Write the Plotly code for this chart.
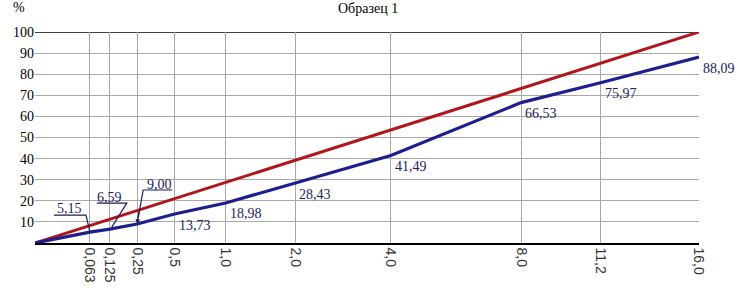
import plotly.graph_objects as go

# --- data ---
sieve_sizes = [0, 0.063, 0.125, 0.25, 0.5, 1.0, 2.0, 4.0, 8.0, 11.2, 16.0]
passing = [0, 5.15, 6.59, 9.00, 13.73, 18.98, 28.43, 41.49, 66.53, 75.97, 88.09]
point_labels = ["", "5,15", "6,59", "9,00", "13,73", "18,98", "28,43", "41,49", "66,53", "75,97", "88,09"]
max_density_sizes = [0, 16.0]
max_density_passing = [0, 100]
tick_sizes = [0.063, 0.125, 0.25, 0.5, 1.0, 2.0, 4.0, 8.0, 11.2, 16.0]
tick_labels = ["0,063", "0,125", "0,25", "0,5", "1,0", "2,0", "4,0", "8,0", "11,2", "16,0"]
y_ticks = [10, 20, 30, 40, 50, 60, 70, 80, 90, 100]

POWER = 0.45  # Fuller-type scale: axis is linear in d^0.45


def tx(d):
    return d ** POWER


RED = "#b0161c"
BLUE = "#1e1e8e"
LABEL = "#1c1c5a"
SERIF = "Liberation Serif"

fig = go.Figure()
fig.add_trace(go.Scatter(x=[tx(d) for d in max_density_sizes], y=max_density_passing,
                         mode="lines", line=dict(color=RED, width=3), hoverinfo="skip"))
fig.add_trace(go.Scatter(x=[tx(d) for d in sieve_sizes], y=passing,
                         mode="lines", line=dict(color=BLUE, width=3.2), hoverinfo="skip"))

# plain labels (lower right of their point)
annotations = []
for d, v, t in zip(sieve_sizes, passing, point_labels):
    if t == "" or d <= 0.25:
        continue
    annotations.append(dict(x=tx(d), y=v, text=t, showarrow=False, xanchor="left",
                            yanchor="middle", xshift=2, yshift=-11,
                            font=dict(family=SERIF, size=14, color=LABEL)))

# labels with leader lines (offsets in pixels relative to the point)
leader = {
    0.063: dict(text_dx=-20, text_dy=24, path="M -36,17 L -4,17 L 0,0"),
    0.125: dict(text_dx=0, text_dy=32, path="M -13,26 L 17,26 L 2,2"),
    0.25: dict(text_dx=22, text_dy=40, path="M 35,34 L 6,34 L 1,6"),
}
shapes = []
for d, v, t in zip(sieve_sizes, passing, point_labels):
    if d in leader:
        L = leader[d]
        annotations.append(dict(x=tx(d), y=v, text=t, showarrow=False, xanchor="center",
                                yanchor="middle", xshift=L["text_dx"], yshift=L["text_dy"],
                                font=dict(family=SERIF, size=14, color=LABEL)))
        shapes.append(dict(type="path", xref="x", yref="y", xsizemode="pixel", ysizemode="pixel",
                           xanchor=tx(d), yanchor=v, path=L["path"],
                           line=dict(color=LABEL, width=1.2)))
        if d == 0.25:
            annotations.append(dict(x=tx(d), y=v, ax=2, ay=-14, text="", showarrow=True,
                                    arrowhead=2, arrowsize=0.8, arrowwidth=1.2, arrowcolor=LABEL))

# top border
shapes.append(dict(type="line", xref="paper", yref="y", x0=0, x1=1, y0=100, y1=100,
                   line=dict(color="black", width=1.5), layer="below"))

annotations.append(dict(xref="paper", yref="paper", x=0.5, y=1, xanchor="center", yanchor="bottom",
                        text="Образец 1", showarrow=False, yshift=14, xshift=1,
                        font=dict(family=SERIF, size=14, color="black")))
annotations.append(dict(xref="paper", yref="paper", x=0, y=1, xanchor="right", yanchor="bottom",
                        text="%", showarrow=False, yshift=15, xshift=-8,
                        font=dict(family=SERIF, size=14, color="black")))

fig.update_layout(
    width=737, height=295,
    margin=dict(l=35, r=38, t=32, b=49),
    paper_bgcolor="white", plot_bgcolor="white",
    showlegend=False,
    annotations=annotations,
    shapes=shapes,
    xaxis=dict(range=[0, tx(16.0)], tickvals=[tx(d) for d in tick_sizes], ticktext=tick_labels,
               tickangle=90, showgrid=True, gridcolor="#a8a8a8", gridwidth=1.3,
               showline=True, linecolor="black", linewidth=1.5, zeroline=False,
               ticks="", tickfont=dict(family="Liberation Sans", size=14, color="#333333")),
    yaxis=dict(range=[0, 100], tickvals=y_ticks, showgrid=True, gridcolor="#a8a8a8", gridwidth=1.3,
               showline=False, zeroline=False, ticks="",
               tickfont=dict(family=SERIF, size=14, color="black")),
)

fig.write_html("out.html", config={"displayModeBar": False},
               post_script="document.body.style.margin='0';document.body.style.overflow='hidden';")
